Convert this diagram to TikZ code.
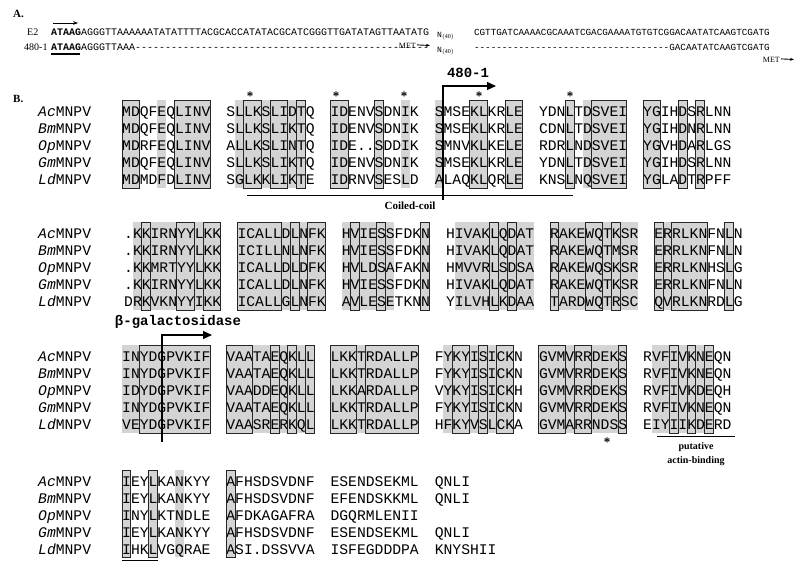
\documentclass[tikz,border=0pt]{standalone}
\usepackage{fontspec}
\setmainfont{Liberation Serif}
\newfontfamily\seqf{Liberation Mono}
\usetikzlibrary{arrows.meta}
\newcounter{bk}
\def\cw{8.8}
\tikzset{
  seq/.style={font=\seqf\fontsize{14.7}{15}\selectfont, inner sep=0pt, anchor=base west},
  small/.style={font=\seqf\fontsize{10}{10}\selectfont, inner sep=0pt, anchor=base west},
  shd/.style={fill=black!17},
  bxs/.style={draw=black!85, line width=0.9pt},
  lbl/.style={inner sep=0pt},
}
\newcommand\gr[3]{\fill[shd] ({#1+#2*\cw},{-\yT}) rectangle ({#1+(#3+1)*\cw},{-\yB});}
\newcommand\bx[3]{\draw[bxs] ({#1+#2*\cw},{-\yT}) rectangle ({#1+(#3+1)*\cw},{-\yB});}
\newcommand\blk[6]{\stepcounter{bk}\edef\bn{\arabic{bk}}%
  \foreach \s [count=\k from 0] in {#2,#3,#4,#5,#6}{\node[seq] (b\bn r\k) at ({#1},{-(\yA+\k*17)}) {\s};}}
\newcommand\names{\stepcounter{bk}\edef\bn{\arabic{bk}}%
  \foreach \p [count=\k from 0] in {Ac,Bm,Op,Gm,Ld}{\node[seq] (nm\bn r\k) at (38,{-(\yA+\k*17)}) {{\itshape\p}MNPV};}}
\begin{document}
\begin{tikzpicture}[x=1pt,y=1pt]
\useasboundingbox (0,0) rectangle (800,-563);
% ---------- Part A
\node[lbl,font=\bfseries\fontsize{11}{11}\selectfont,anchor=base west] (A) at (13,-17) {A.};
\node[lbl,font=\fontsize{10}{10}\selectfont,anchor=base west] (e2) at (27,-35) {E2};
\node[lbl,font=\fontsize{10}{10}\selectfont,anchor=base west] (l480) at (24,-50) {480-1};
\node[small] (s1) at (51,-35) {\textbf{ATAAG}AGGGTTAAAAAATATATTTTACGCACCATATACGCATCGGGTTGATATAGTTAATATG};
\node[small] (s2) at (51,-50) {\textbf{ATAAG}AGGGTTAAA-------------------------------------------------};
\node[small,font=\seqf\fontsize{9.3}{10}\selectfont,anchor=base east] (s3) at (770,-35) {CGTTGATCAAAACGCAAATCGACGAAAATGTGTCGGACAATATCAAGTCGATG};
\node[small,font=\seqf\fontsize{9.3}{10}\selectfont,anchor=base east] (s4) at (770,-50) {-----------------------------------GACAATATCAAGTCGATG};
\node[small,font=\seqf\fontsize{8}{8}\selectfont] (n1) at (437,-37) {N$_{\mathrm{(40)}}$};
\node[small,font=\seqf\fontsize{8}{8}\selectfont] (n2) at (437,-52) {N$_{\mathrm{(40)}}$};
\node[lbl,font=\fontsize{8}{8}\selectfont,anchor=base east] (m1) at (416,-48) {MET};
\coordinate (m1e) at (430,-45.5);
\draw[-{Stealth[length=4pt]},line width=0.9pt] (m1.east) ++(1,0.5) -- (m1e);
\node[lbl,font=\fontsize{8}{8}\selectfont,anchor=base east] (m2) at (780,-62) {MET};
\coordinate (m2e) at (794,-59.5);
\draw[-{Stealth[length=4pt]},line width=0.9pt] (m2.east) ++(1,0.5) -- (m2e);
\coordinate (a1) at (53,-23); \coordinate (a2) at (78,-23);
\draw[-{Stealth[length=5pt]},line width=1pt] (a1) -- (a2);
\coordinate (u1) at (51,-54); \coordinate (u2) at (80,-54);
\draw[line width=1.5pt] (u1) -- (u2);
% ---------- Part B
\node[lbl,font=\bfseries\fontsize{11}{11}\selectfont,anchor=base west] (B) at (13,-102) {B.};
% Section 1
\def\yA{116}\def\yT{100}\def\yB{188}
\gr{122}{0}{1}\gr{122}{4}{4}\gr{122}{6}{9}
\gr{226.2}{1}{8}
\gr{330.4}{0}{1}\gr{330.4}{5}{5}\gr{330.4}{8}{8}
\gr{434.6}{0}{0}\gr{434.6}{4}{5}\gr{434.6}{8}{9}
\gr{538.8}{3}{3}\gr{538.8}{5}{9}
\gr{643}{0}{1}\gr{643}{4}{4}\gr{643}{6}{6}
\names
\blk{122}{MDQFEQLINV}{MDQFEQLINV}{MDRFEQLINV}{MDQFEQLINV}{MDMDFDLINV}
\blk{226.2}{SLLKSLIDTQ}{SLLKSLIKTQ}{ALLKSLINTQ}{SLLKSLIKTQ}{SGLKKLIKTE}
\blk{330.4}{IDENVSDNIK}{IDENVSDNIK}{IDE..SDDIK}{IDENVSDNIK}{IDRNVSESLD}
\blk{434.6}{SMSEKLKRLE}{SMSEKLKRLE}{SMNVKLKELE}{SMSEKLKRLE}{ALAQKLQRLE}
\blk{538.8}{YDNLTDSVEI}{CDNLTDSVEI}{RDRLNDSVEI}{YDNLTDSVEI}{KNSLNQSVEI}
\blk{643}{YGIHDSRLNN}{YGIHDNRLNN}{YGVHDARLGS}{YGIHDSRLNN}{YGLADTRPFF}
\bx{122}{0}{1}\bx{122}{6}{9}
\bx{226.2}{2}{3}\bx{226.2}{5}{6}\bx{226.2}{8}{8}
\bx{330.4}{0}{1}\bx{330.4}{5}{5}
\bx{434.6}{4}{5}\bx{434.6}{8}{9}
\bx{538.8}{3}{3}\bx{538.8}{6}{9}
\bx{643}{0}{1}\bx{643}{4}{4}\bx{643}{6}{6}
\foreach \sx [count=\i] in {250,336,404,479,570}{\node[lbl,font=\bfseries\fontsize{13}{13}\selectfont] (st\i) at (\sx,-96) {*};}
\coordinate (cc1) at (247,-195); \coordinate (cc2) at (573,-195);
\draw[line width=1pt] (cc1) -- (cc2);
\node[lbl,font=\bfseries\fontsize{11}{11}\selectfont] (cc) at (410,-206) {Coiled-coil};
\coordinate (p1) at (443,-200); \coordinate (p2) at (443,-86); \coordinate (p3) at (496,-86);
\draw[line width=1.2pt,-{Triangle[length=9pt,width=8pt]}] (p1) -- (p2) -- (p3);
\node[lbl,font=\seqf\bfseries\fontsize{14}{14}\selectfont] (k480) at (468,-73) {480-1};
% Section 2
\def\yA{238}\def\yT{222}\def\yB{310}
\gr{124}{1}{10}
\gr{237.4}{0}{9}
\gr{341.6}{0}{5}\gr{341.6}{9}{9}
\gr{445.8}{1}{9}
\gr{550}{0}{9}
\gr{654.2}{0}{5}\gr{654.2}{8}{8}
\names
\blk{124}{.KKIRNYYLKK}{.KKIRNYYLKK}{.KKMRTYYLKK}{.KKIRNYYLKK}{DRKVKNYYIKK}
\blk{237.4}{ICALLDLNFK}{ICILLNLNFK}{ICALLDLDFK}{ICALLDLNFK}{ICALLGLNFK}
\blk{341.6}{HVIESSFDKN}{HVIESSFDKN}{HVLDSAFAKN}{HVIESSFDKN}{AVLESETKNN}
\blk{445.8}{HIVAKLQDAT}{HIVAKLQDAT}{HMVVRLSDSA}{HIVAKLQDAT}{YILVHLKDAA}
\blk{550}{RAKEWQTKSR}{RAKEWQTMSR}{RAKEWQSKSR}{RAKEWQTKSR}{TARDWQTRSC}
\blk{654.2}{ERRLKNFNLN}{ERRLKNFNLN}{ERRLKNHSLG}{ERRLKNFNLN}{QVRLKNRDLG}
\bx{124}{2}{2}\bx{124}{6}{7}\bx{124}{9}{10}
\bx{237.4}{0}{4}\bx{237.4}{6}{6}\bx{237.4}{8}{9}
\bx{341.6}{1}{1}\bx{341.6}{4}{4}\bx{341.6}{9}{9}
\bx{445.8}{5}{5}\bx{445.8}{7}{7}
\bx{550}{0}{0}\bx{550}{4}{5}\bx{550}{7}{7}
\bx{654.2}{0}{0}\bx{654.2}{2}{5}\bx{654.2}{8}{8}
% Section 3
\def\yA{361}\def\yT{345}\def\yB{433}
\gr{122}{0}{9}
\gr{226.2}{0}{9}
\gr{330.4}{0}{9}
\gr{434.6}{1}{8}
\gr{538.8}{0}{9}
\gr{643}{1}{7}
\names
\blk{122}{INYDGPVKIF}{INYDGPVKIF}{IDYDGPVKIF}{INYDGPVKIF}{VEYDGPVKIF}
\blk{226.2}{VAATAEQKLL}{VAATAEQKLL}{VAADDEQKLL}{VAATAEQKLL}{VAASRERKQL}
\blk{330.4}{LKKTRDALLP}{LKKTRDALLP}{LKKARDALLP}{LKKTRDALLP}{LKKTRDALLP}
\blk{434.6}{FYKYISICKN}{FYKYISICKN}{VYKYISICKH}{FYKYISICKN}{HFKYVSLCKA}
\blk{538.8}{GVMVRRDEKS}{GVMVRRDEKS}{GVMVRRDEKS}{GVMVRRDEKS}{GVMARRNDSS}
\blk{643}{RVFIVKNEQN}{RVFIVKNEQN}{RVFIVKDEQH}{RVFIVKNEQN}{EIYIIKDERD}
\bx{122}{2}{9}
\bx{226.2}{0}{2}\bx{226.2}{5}{5}\bx{226.2}{7}{7}\bx{226.2}{9}{9}
\bx{330.4}{0}{2}\bx{330.4}{4}{9}
\bx{434.6}{2}{3}\bx{434.6}{5}{5}\bx{434.6}{7}{8}
\bx{538.8}{0}{2}\bx{538.8}{4}{5}\bx{538.8}{9}{9}
\bx{643}{3}{3}\bx{643}{5}{5}\bx{643}{7}{7}
\node[lbl,font=\bfseries\fontsize{13}{13}\selectfont] (st6) at (607,-442) {*};
\coordinate (ab1) at (657,-436); \coordinate (ab2) at (735,-436);
\draw[line width=1pt] (ab1) -- (ab2);
\node[lbl,font=\bfseries\fontsize{10}{10}\selectfont] (put) at (696,-447) {putative};
\node[lbl,font=\bfseries\fontsize{10}{10}\selectfont] (act) at (696,-461) {actin-binding};
\coordinate (g1) at (162,-442); \coordinate (g2) at (162,-335); \coordinate (g3) at (212,-335);
\draw[line width=1.2pt,-{Triangle[length=9pt,width=8pt]}] (g1) -- (g2) -- (g3);
\node[lbl,font=\seqf\bfseries\fontsize{14}{14}\selectfont] (bgal) at (178,-322) {β-galactosidase};
% Section 4
\def\yA{486}\def\yT{470}\def\yB{557}
\gr{122}{0}{0}\gr{122}{3}{3}\gr{122}{6}{6}
\gr{226.2}{0}{0}
\names
\blk{122}{IEYLKANKYY}{IEYLKANKYY}{INYLKTNDLE}{IEYLKANKYY}{IHKLVGQRAE}
\blk{226.2}{AFHSDSVDNF}{AFHSDSVDNF}{AFDKAGAFRA}{AFHSDSVDNF}{ASI.DSSVVA}
\blk{330.4}{ESENDSEKML}{EFENDSKKML}{DGQRMLENII}{ESENDSEKML}{ISFEGDDDPA}
\blk{434.6}{QNLI}{QNLI}{}{QNLI}{KNYSHII}
\bx{122}{0}{0}\bx{122}{3}{3}
\bx{226.2}{0}{0}
\coordinate (ul1) at (122,-560); \coordinate (ul2) at (158,-560);
\draw[line width=1pt] (ul1) -- (ul2);
\end{tikzpicture}
\end{document}
